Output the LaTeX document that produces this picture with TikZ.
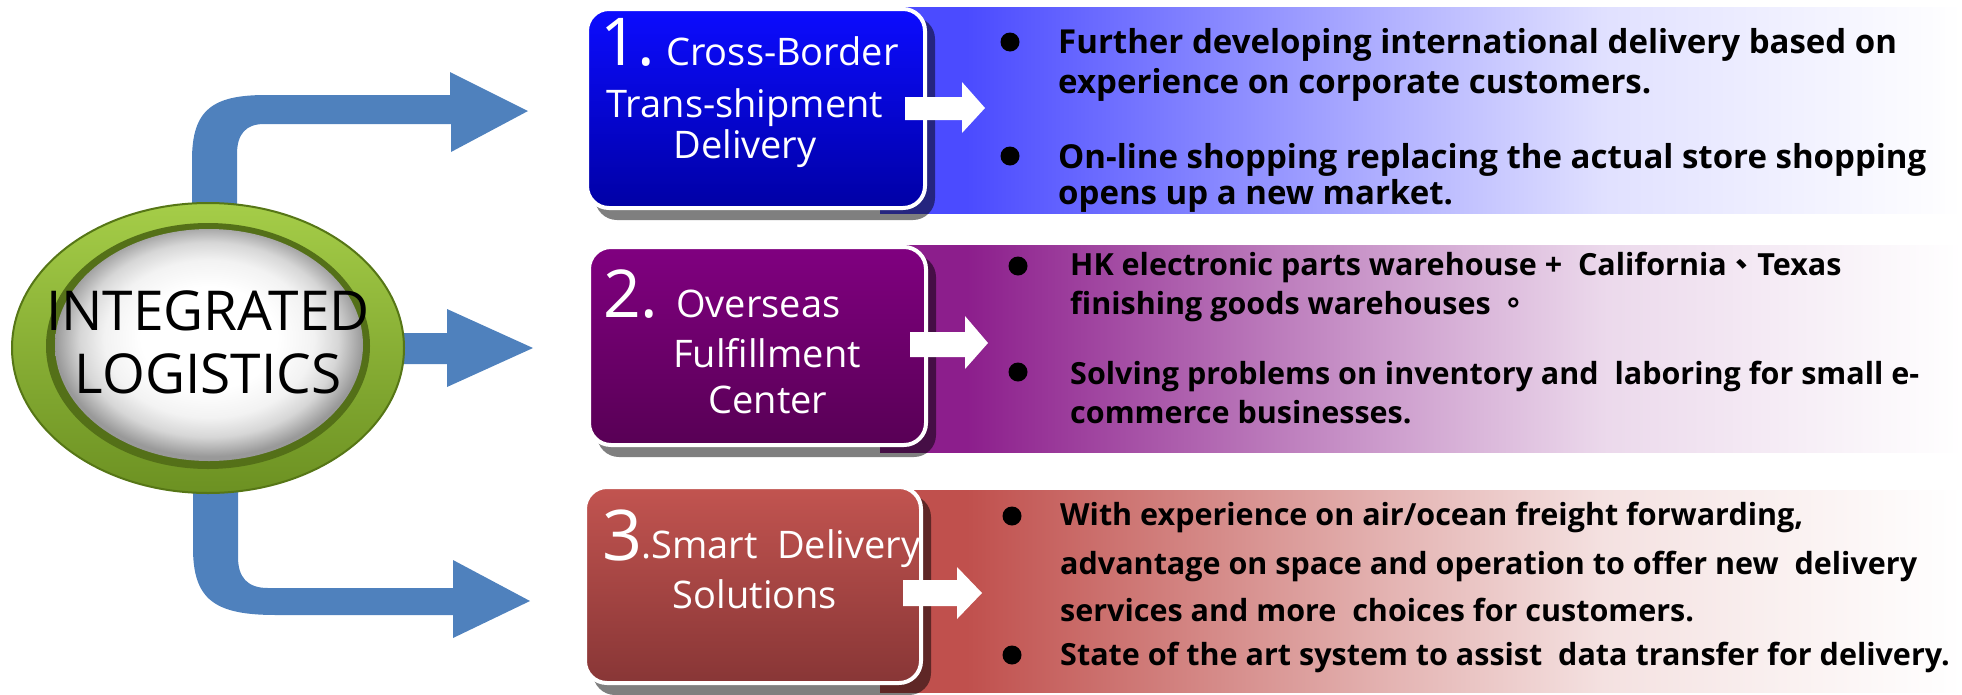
\documentclass[tikz,border=0pt]{standalone}
\usepackage{fontspec}
\setmainfont{Open Sans}
\newfontfamily\cjk{Noto Sans CJK TC}
\definecolor{arrowblue}{RGB}{79,129,189}
\definecolor{bandA}{RGB}{75,75,255}
\definecolor{bandB}{RGB}{140,30,140}
\definecolor{bandC}{RGB}{192,80,77}
\definecolor{boxAtop}{RGB}{12,12,255}
\definecolor{boxAbot}{RGB}{0,0,165}
\definecolor{boxBtop}{RGB}{128,0,128}
\definecolor{boxBbot}{RGB}{88,0,85}
\definecolor{boxCtop}{RGB}{194,84,80}
\definecolor{boxCbot}{RGB}{136,54,54}
\definecolor{ringlight}{RGB}{165,205,72}
\definecolor{ringdark}{RGB}{108,145,34}
\definecolor{ringedge}{RGB}{86,118,22}
\definecolor{ringinner}{RGB}{84,112,24}
\pgfdeclarehorizontalshading{bandAsh}{100bp}{color(0bp)=(bandA); color(29bp)=(bandA); color(49bp)=(bandA!42!white); color(58.5bp)=(bandA!17!white); color(72bp)=(bandA!3!white); color(75bp)=(white); color(100bp)=(white)}
\pgfdeclarehorizontalshading{bandBsh}{100bp}{color(0bp)=(bandB); color(29bp)=(bandB); color(49bp)=(bandB!42!white); color(58.5bp)=(bandB!17!white); color(72bp)=(bandB!3!white); color(75bp)=(white); color(100bp)=(white)}
\pgfdeclarehorizontalshading{bandCsh}{100bp}{color(0bp)=(bandC); color(29bp)=(bandC); color(49bp)=(bandC!42!white); color(58.5bp)=(bandC!17!white); color(72bp)=(bandC!3!white); color(75bp)=(white); color(100bp)=(white)}
\pgfdeclareradialshading{spheresh}{\pgfpoint{0bp}{2bp}}{color(0bp)=(white); color(11bp)=(white); color(17bp)=(white!95!black); color(21bp)=(white!84!black); color(24bp)=(white!66!black); color(25bp)=(white!60!black); color(50bp)=(white!60!black)}
\tikzset{
  bluearrow/.style={fill=arrowblue},
  whitearrow/.style={fill=white},
  shadowbox/.style={fill=black, fill opacity=0.5, rounded corners=22pt},
  labelbox/.style={draw=white, line width=4pt, rounded corners=22pt},
  boxtext/.style={text=white, inner sep=0pt, font=\fontsize{38}{44}\selectfont},
  bignum/.style={text=white, inner sep=0pt, font=\fontsize{66}{66}\selectfont},
  bodyA/.style={inner sep=0pt, anchor=base west, font=\bfseries\fontsize{33}{40}\selectfont},
  bodyB/.style={inner sep=0pt, anchor=base west, font=\bfseries\fontsize{30.5}{38}\selectfont},
  dot/.style={circle, fill=black, inner sep=0pt, minimum size=19pt},
  hubtext/.style={inner sep=0pt, anchor=base, font=\fontsize{55}{63}\selectfont}
}
\begin{document}
\begin{tikzpicture}[x=1pt,y=-1pt]
\useasboundingbox (0,0) rectangle (1962,694);
% ---- bands ----
\path[shading=bandAsh] (880,7) rectangle (1962,213);
\path[shading=bandBsh] (880,245) rectangle (1962,452);
\path[shading=bandCsh] (880,490) rectangle (1962,692);
% ---- blue block arrows ----
\fill[bluearrow] (192,240) -- (192,160) .. controls (192,110) and (212,95) .. (266,95)
  -- (450,95) -- (450,72) -- (528,111) -- (451,152) -- (451,124) -- (264,124)
  .. controls (246,124) and (237,134) .. (237,154) -- (237,240) -- cycle;
\fill[bluearrow] (370,333) -- (447,333) -- (447,309) -- (533,348) -- (447,387)
  -- (447,364) -- (370,364) -- cycle;
\fill[bluearrow] (193,450) -- (193,548) .. controls (193,600) and (215,615) .. (276,615)
  -- (453,615) -- (453,638) -- (530,601) -- (453,560) -- (453,588) -- (268,588)
  .. controls (247,588) and (238,577) .. (238,557) -- (238,450) -- cycle;
% ---- hub ellipse ----
\coordinate (hub) at (208,348);
\shade[top color=ringlight, bottom color=ringdark, draw=ringedge, line width=2pt]
  (hub) ellipse [x radius=196, y radius=145];
\fill[ringinner] ([yshift=2pt]hub) ellipse [x radius=162, y radius=123];
\path[shading=spheresh] ([xshift=1pt,yshift=3pt]hub) ellipse [x radius=154, y radius=116];
\node[hubtext] (hubA) at (208,330) {INTEGRATED};
\node[hubtext] (hubB) at (208,393) {LOGISTICS};
% ---- shadows ----
\path[shadowbox] (595,17) rectangle (935,220);
\path[shadowbox] (597,255) rectangle (936,457);
\path[shadowbox] (593,495) rectangle (931,695);
% ---- label boxes ----
\shade[labelbox, top color=boxAtop, bottom color=boxAbot] (587,9) rectangle (925,208);
\shade[labelbox, top color=boxBtop, bottom color=boxBbot] (589,247) rectangle (926,445);
\shade[labelbox, top color=boxCtop, bottom color=boxCbot] (585,487) rectangle (921,683);
% ---- white arrows ----
\fill[whitearrow] (905,97) -- (962,97) -- (962,82) -- (985,108) -- (962,133) -- (962,120) -- (905,120) -- cycle;
\fill[whitearrow] (910,332) -- (965,332) -- (965,316) -- (988,343) -- (965,369) -- (965,357) -- (910,357) -- cycle;
\fill[whitearrow] (903,580) -- (957,580) -- (957,567) -- (982,593) -- (957,619) -- (957,606) -- (903,606) -- cycle;
% ---- box texts ----
\node[bignum, anchor=base west] (n1) at (600,65) {1.};
\node[boxtext, anchor=base west] (t1a) at (666,65) {Cross-Border};
\node[boxtext, anchor=base] (t1b) at (745,117) {Trans-shipment};
\node[boxtext, anchor=base] (t1c) at (745,158) {Delivery};
\node[bignum, anchor=base west] (n2) at (603,317) {2.};
\node[boxtext, anchor=base west] (t2a) at (676,317) {Overseas};
\node[boxtext, anchor=base] (t2b) at (767,367) {Fulfillment};
\node[boxtext, anchor=base] (t2c) at (768,413) {Center};
\node[bignum, anchor=base west, font=\fontsize{70}{70}\selectfont] (n3) at (602,560) {3};
\node[boxtext, anchor=base west] (t3a) at (641,558) {.Smart\ \ Delivery};
\node[boxtext, anchor=base] (t3b) at (755,608) {Solutions};
% ---- bullets band 1 ----
\node[dot] (d1a) at (1010,42) {};
\node[dot] (d1b) at (1010,156) {};
\node[bodyA] (b1a) at (1058,53) {Further developing international delivery based on};
\node[bodyA] (b1b) at (1058,93) {experience on corporate customers.};
\node[bodyA] (b1c) at (1058,168) {On-line shopping replacing the actual store shopping};
\node[bodyA] (b1d) at (1058,204) {opens up a new market.};
% ---- bullets band 2 ----
\node[dot] (d2a) at (1018,266) {};
\node[dot] (d2b) at (1018,372) {};
\node[bodyB] (b2a) at (1070,275) {HK electronic parts warehouse +\ \ California{\cjk\bfseries 、}Texas};
\node[bodyB] (b2b) at (1070,314) {finishing goods warehouses {\cjk\bfseries 。}};
\node[bodyB] (b2c) at (1070,384) {Solving problems on inventory and\ \ laboring for small e-};
\node[bodyB] (b2d) at (1070,423) {commerce businesses.};
% ---- bullets band 3 ----
\node[dot] (d3a) at (1012,516) {};
\node[dot] (d3b) at (1012,655) {};
\node[bodyB] (b3a) at (1060,525) {With experience on air/ocean freight forwarding,};
\node[bodyB] (b3b) at (1060,574) {advantage on space and operation to offer new\ \ delivery};
\node[bodyB] (b3c) at (1060,621) {services and more\ \ choices for customers.};
\node[bodyB] (b3d) at (1060,665) {State of the art system to assist\ \ data transfer for delivery.};
\end{tikzpicture}
\end{document}
